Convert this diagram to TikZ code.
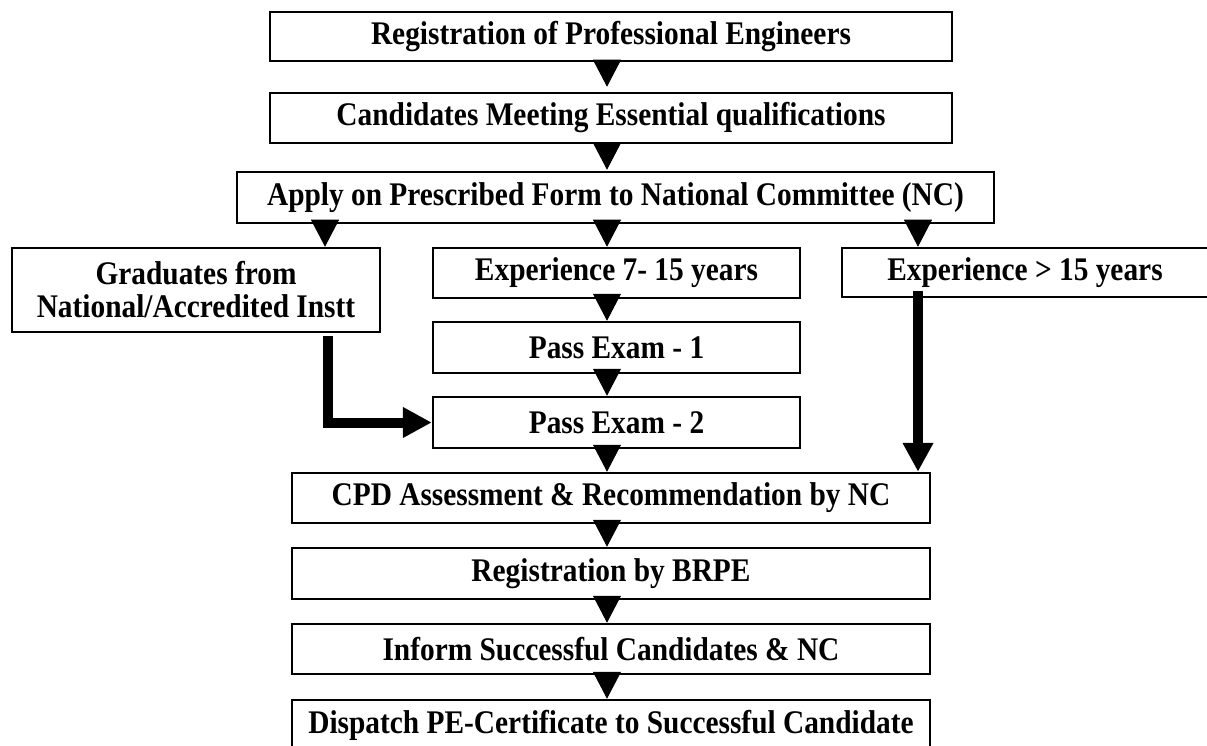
\documentclass[tikz,border=0pt]{standalone}
\usepackage{fontspec}
\setmainfont{Liberation Serif}[FakeStretch=0.89]
\usetikzlibrary{arrows.meta}
\begin{document}
\begin{tikzpicture}[x=1pt,y=-1pt,
  box/.style={draw, line width=2.5pt, inner sep=0pt, align=center,
    font=\bfseries\fontsize{33}{33}\selectfont},
  tri/.style={-{Triangle[length=27pt,width=28pt]}, line width=1pt},
  thickarrow/.style={line width=10pt, -{Triangle[length=29pt,width=29pt]}, line join=miter}]
\useasboundingbox (0,0) rectangle (1207,746);
\coordinate (lc) at (325,0);
\coordinate (mc) at (607,0);
\coordinate (rc) at (918,0);
\coordinate (gx) at (328,0);

\node[box, minimum width=682pt, minimum height=49pt] (b1) at (611,36.5) {Registration of Professional Engineers};
\node[box, minimum width=682pt, minimum height=50pt] (b2) at (611,118) {Candidates Meeting Essential qualifications};
\node[box, minimum width=757pt, minimum height=51pt] (b3) at (615.5,197.5) {Apply on Prescribed Form to National Committee (NC)};
\node[box, minimum width=368pt, minimum height=84pt] (g) at (196,290) {Graduates from\\National/Accredited Instt};
\node[box, minimum width=367pt, minimum height=50pt] (e1) at (616.5,273) {Experience 7- 15 years};
\node[box, minimum width=366pt, minimum height=49pt] (e2) at (1025,272.5) {Experience > 15 years};
\node[box, minimum width=367pt, minimum height=51pt] (p1) at (616.5,347.5) {Pass Exam - 1};
\node[box, minimum width=367pt, minimum height=51pt] (p2) at (616.5,422.5) {Pass Exam - 2};
\node[box, minimum width=638pt, minimum height=50pt] (cpd) at (611,498) {CPD Assessment \& Recommendation by NC};
\node[box, minimum width=638pt, minimum height=51pt] (brpe) at (611,573.5) {Registration by BRPE};
\node[box, minimum width=638pt, minimum height=50pt] (inf) at (611,649) {Inform Successful Candidates \& NC};
\node[box, minimum width=638pt, minimum height=50pt] (dis) at (611,725) {Dispatch PE-Certificate to Successful Candidate};

\draw[tri] (b1.south -| mc) -- ([yshift=5pt]b2.north -| mc);
\draw[tri] (b2.south -| mc) -- ([yshift=1pt]b3.north -| mc);
\draw[tri] (b3.south -| lc) -- (g.north -| lc);
\draw[tri] (b3.south -| mc) -- (e1.north -| mc);
\draw[tri] (b3.south -| rc) -- (e2.north -| rc);
\draw[tri] (e1.south -| mc) -- (p1.north -| mc);
\draw[tri] (p1.south -| mc) -- (p2.north -| mc);
\draw[tri] (p2.south -| mc) -- (cpd.north -| mc);
\draw[tri] (cpd.south -| mc) -- (brpe.north -| mc);
\draw[tri] (brpe.south -| mc) -- (inf.north -| mc);
\draw[tri] (inf.south -| mc) -- (dis.north -| mc);

\draw[thickarrow] ([yshift=-3pt]g.south -| gx) |- (p2.west);
\draw[thickarrow] ([yshift=7pt]e2.south -| rc) -- (cpd.north -| rc);
\end{tikzpicture}
\end{document}
